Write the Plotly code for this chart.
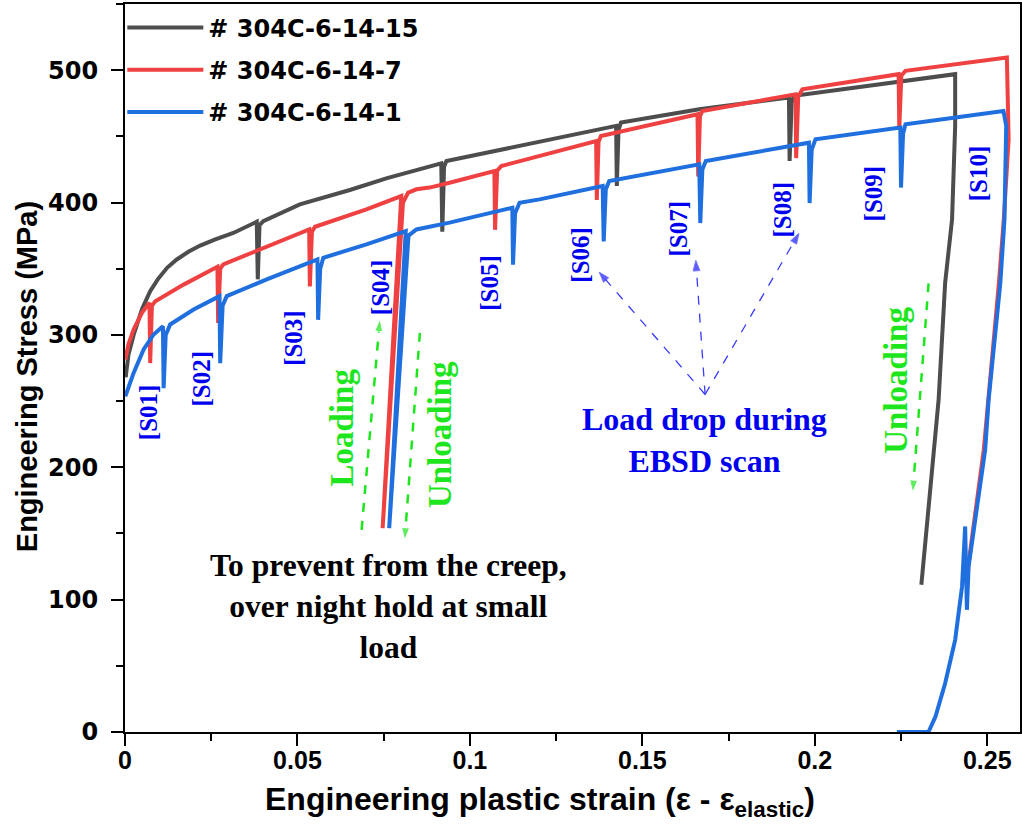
import plotly.graph_objects as go

# ---------------- data ----------------
names = ["# 304C-6-14-15", "# 304C-6-14-7", "# 304C-6-14-1"]
colors = ["#4d4d4d", "#ef4141", "#1f6fde"]

black_x = [0.0002, 0.001, 0.0025, 0.005, 0.0073, 0.0095, 0.0122, 0.015, 0.0185, 0.0218, 0.026,
           0.0314, 0.0382, 0.0385, 0.0390, 0.0401, 0.0507, 0.0652, 0.0760, 0.0884, 0.0917, 0.0920,
           0.0925, 0.0932, 0.1424, 0.1426, 0.1431, 0.1438, 0.1665, 0.1925, 0.1927, 0.1933, 0.194,
           0.2407, 0.2407, 0.2398, 0.2378, 0.2359, 0.2345, 0.2309]
black_y = [268, 285, 300, 320, 333, 342, 350.7, 357, 363, 367.5, 372,
           377, 385.5, 342, 383, 386, 398.6, 409.5, 418.5, 427.6, 429.6, 378,
           427, 431.4, 457.9, 412.5, 455, 460.4, 470.5, 479.3, 431.4, 476, 480.6,
           497, 457.9, 387.3, 339.4, 251, 213.3, 111.2]

red_x = [0.0001, 0.001, 0.0025, 0.0049, 0.0071, 0.0073, 0.0078, 0.0088, 0.017, 0.0268, 0.027, 0.0276,
         0.0285, 0.0411, 0.0534, 0.0536, 0.0542, 0.0551, 0.070, 0.0801, 0.0747, 0.0806, 0.0821,
         0.0845, 0.0883, 0.0941, 0.1071, 0.1073, 0.1079, 0.1091, 0.1231, 0.1366, 0.1368, 0.1373,
         0.138, 0.166, 0.1662, 0.1667, 0.1674, 0.1944, 0.1946, 0.1952, 0.1964, 0.2243, 0.2245,
         0.2251, 0.2263, 0.2557, 0.2562, 0.2548, 0.2534, 0.249, 0.2442]
red_y = [281.4, 293, 304, 316.7, 324.3, 278.7, 322, 325.5, 338, 351.5, 309, 350,
         353.3, 367, 379.7, 336.6, 378, 381.7, 394.9, 404.9, 154, 400, 407.5,
         410, 411.3, 415, 423.8, 379.4, 424, 427.6, 437, 446.5, 402, 446,
         450.3, 466.7, 419.7, 465, 469.2, 481.8, 433.6, 480, 485.6, 497, 456,
         496, 499.5, 509.6, 447.8, 387.3, 339.4, 213.3, 119.8]

blue_x = [0.0001, 0.0025, 0.0054, 0.0083, 0.011, 0.0112, 0.0118, 0.0131, 0.0199, 0.0274, 0.0276,
          0.0283, 0.0295, 0.0411, 0.0558, 0.056, 0.0566, 0.0575, 0.070, 0.0814, 0.0766, 0.0822,
          0.0845, 0.0941, 0.1123, 0.1125, 0.1131, 0.1144, 0.1202, 0.1385, 0.1388, 0.1394, 0.1404,
          0.1665, 0.1668, 0.1674, 0.1684, 0.1983, 0.1985, 0.1991, 0.2002, 0.2248, 0.225, 0.2256,
          0.2263, 0.2547, 0.2555, 0.255, 0.2538, 0.2504, 0.2494, 0.2446, 0.2441, 0.2436, 0.2427,
          0.2407, 0.2378, 0.235, 0.233, 0.2238]
blue_y = [253.6, 271.3, 289, 300.3, 306.6, 259.7, 300, 307.9, 319.2, 329.3, 278.6,
          322, 329.3, 341.9, 357, 311.4, 350, 358.3, 368.4, 378.4, 154, 375,
          379.7, 384.8, 396.1, 353, 392, 399.9, 402.4, 412.5, 370.6, 410, 416.3,
          428.9, 384.5, 425, 431.4, 445.2, 399.6, 440, 447.8, 456.6, 411.3, 452,
          459.1, 469.2, 457.9, 387.3, 339.4, 251, 213.3, 125, 92.3, 155.3, 110,
          69.6, 36.8, 11.6, 0.2, 0]

scan_labels = ["[S01]", "[S02]", "[S03]", "[S04]", "[S05]", "[S06]", "[S07]", "[S08]", "[S09]", "[S10]"]
scan_x = [0.0068, 0.0223, 0.0488, 0.0739, 0.1057, 0.1322, 0.1602, 0.1906, 0.2171, 0.2475]
scan_y = [242, 267, 298, 336, 339, 360.6, 380, 395, 406.7, 421.8]

# green dashed arrows: (tail_x, tail_y, head_x, head_y)
green_arrows = [(0.0686, 152.7, 0.0739, 312), (0.0855, 301.6, 0.0811, 145), (0.2330, 339, 0.2284, 181)]
# blue dashed arrows from a common origin
blue_origin = (0.1682, 255)
blue_heads = [(0.1375, 347.4), (0.1655, 356.3), (0.1954, 376.7)]

GREEN = "#1ee61e"
TXTBLUE = "#0000ee"

fig = go.Figure()
for nm, c, xs, ys in zip(names, colors, [black_x, red_x, blue_x], [black_y, red_y, blue_y]):
    fig.add_trace(go.Scatter(x=xs, y=ys, mode="lines", name="<b>" + nm + "</b>",
                             line=dict(color=c, width=4), legendgroup=nm))

for tx, ty, hx, hy in green_arrows:
    fig.add_trace(go.Scatter(x=[tx, hx], y=[ty, hy], mode="lines+markers", showlegend=False,
                             line=dict(color=GREEN, width=2.5, dash="dash"),
                             marker=dict(symbol="arrow", size=[0, 13], angleref="previous", color=GREEN),
                             hoverinfo="skip"))
for hx, hy in blue_heads:
    fig.add_trace(go.Scatter(x=[blue_origin[0], hx], y=[blue_origin[1], hy], mode="lines+markers",
                             showlegend=False, line=dict(color="#3a3aff", width=1.3, dash="dash"),
                             marker=dict(symbol="arrow", size=[0, 11], angleref="previous", color="#1a1aff"),
                             hoverinfo="skip"))

serif = "Liberation Serif, Times New Roman, serif"
for t, x, y in zip(scan_labels, scan_x, scan_y):
    fig.add_annotation(x=x, y=y, text=t, showarrow=False, textangle=-90,
                       font=dict(family=serif, size=25, color=TXTBLUE, weight="bold"))

fig.add_annotation(x=0.0629, y=230, text="Loading", showarrow=False, textangle=-90,
                   font=dict(family=serif, size=33, color=GREEN, weight="bold"))
fig.add_annotation(x=0.0912, y=224.7, text="Unloading", showarrow=False, textangle=-90,
                   font=dict(family=serif, size=33, color=GREEN, weight="bold"))
fig.add_annotation(x=0.2235, y=266, text="Unloading", showarrow=False, textangle=-90,
                   font=dict(family=serif, size=33, color=GREEN, weight="bold"))
fig.add_annotation(x=0.1679, y=220.3, text="Load drop during<br>EBSD scan", showarrow=False,
                   font=dict(family=serif, size=32, color=TXTBLUE, weight="bold"), align="center")
fig.add_annotation(x=0.0765, y=94.8, text="To prevent from the creep,<br>over night hold at small<br>load",
                   showarrow=False, font=dict(family=serif, size=31.5, color="black", weight="bold"),
                   align="center")

# axis titles
sans = "Liberation Sans, Arial, sans-serif"
fig.add_annotation(xref="paper", yref="paper", x=0.4638, y=-0.0948, xanchor="center", yanchor="middle",
                   text="Engineering plastic strain (ε - ε<sub>elastic</sub>)",
                   showarrow=False,
                   font=dict(family=sans, size=32, color="black", weight="bold"))
fig.add_annotation(xref="paper", yref="paper", x=-0.1093, y=0.4876, xanchor="center", yanchor="middle",
                   textangle=-90, text="Engineering Stress (MPa)", showarrow=False,
                   font=dict(family=sans, size=29, color="black", weight="bold"))

axis_common = dict(showgrid=False, zeroline=False, showline=True, linewidth=2, linecolor="black",
                   mirror=True, ticks="outside", ticklen=12, tickwidth=2, tickcolor="black")
fig.update_xaxes(range=[0, 0.2595], dtick=0.05, tick0=0,
                 tickfont=dict(family=sans, size=25, color="black", weight="bold"),
                 ticklabelstandoff=-7,
                 minor=dict(dtick=0.025, ticks="outside", ticklen=7, tickwidth=2, tickcolor="black"),
                 **axis_common)
fig.update_yaxes(range=[0, 550], dtick=100, tick0=0,
                 tickfont=dict(family="DejaVu Sans", size=24, color="black", weight="bold"),
                 ticklabelstandoff=8,
                 minor=dict(dtick=50, ticks="outside", ticklen=7, tickwidth=2, tickcolor="black"),
                 **axis_common)

fig.update_layout(
    width=1023, height=828,
    margin=dict(l=125, r=1, t=4, b=96),
    plot_bgcolor="white", paper_bgcolor="white",
    showlegend=True,
    legend=dict(x=-0.003, y=0.998, xanchor="left", yanchor="top", bgcolor="rgba(0,0,0,0)",
                font=dict(family="DejaVu Sans", size=24, color="black"),
                itemwidth=76, tracegroupgap=8, borderwidth=0),
)

fig.write_html("out.html", include_plotlyjs=True, config={"displayModeBar": False},
               post_script="document.body.style.margin='0';document.body.style.overflow='hidden';")
